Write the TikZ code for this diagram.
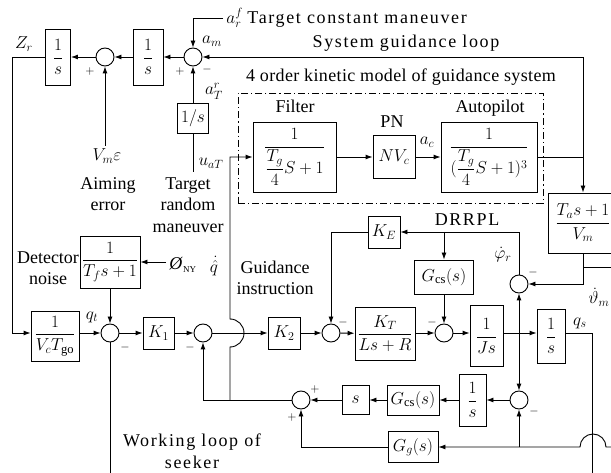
\documentclass[tikz,border=0pt]{standalone}
\usepackage{amsmath}
\usepackage{fontspec}
\setmainfont{Liberation Serif}
\newfontfamily\spacedfont[LetterSpace=9]{Liberation Serif}
\newfontfamily\kinfont[LetterSpace=2]{Liberation Serif}
\usetikzlibrary{arrows.meta, positioning, calc}

\begin{document}
\begin{tikzpicture}[
    x=1pt, y=-1pt, line width=0.9pt,
    font=\fontsize{18}{21.5}\selectfont,
    blk/.style={draw, rectangle, inner sep=0pt, align=center, fill=white},
    sumc/.style={draw, circle, minimum size=18pt, inner sep=0pt, fill=white},
    arrow/.style={-{Latex[length=7pt,width=5pt]}},
    pm/.style={inner sep=0pt, font=\fontsize{13}{13}\selectfont},
    lbl/.style={inner sep=0pt, align=center},
    dashdot/.style={dash pattern=on 7pt off 3pt on 1.2pt off 3pt}
]
    \useasboundingbox (0,0) rectangle (611,473);
    \clip (0,0) rectangle (611,473);

    % --- System guidance loop, top row ---
    \node[blk, minimum width=25pt, minimum height=56pt] (intZ) at (58,57) {$\dfrac{1}{s}$};
    \node[sumc] (sumE) at (105,57) {};
    \node[blk, minimum width=30pt, minimum height=56pt] (intM) at (148,57) {$\dfrac{1}{s}$};
    \node[sumc] (sumM) at (193,57) {};
    \node[blk, minimum width=31pt, minimum height=30pt] (intT) at (193,118) {$1/s$};
    \coordinate (af) at (223,18);
    \coordinate (vme) at (105,146);
    \coordinate (uat) at (193,172);

    \node[lbl] (lzr) at (24,44) {$Z_r$};
    \node[lbl] (lam) at (212,41) {$a_m$};
    \node[lbl] (lar) at (214,91) {$a^r_T$};
    \node[lbl, anchor=west] (laf) at (226,18) {$a^f_r$\ {\spacedfont Target constant maneuver}};
    \node[lbl] (lsys) at (406,43) {\spacedfont System guidance loop};
    \node[lbl] (lvme) at (107,156) {$V_m\varepsilon$};
    \node[lbl] (luat) at (211,163) {$u_{aT}$};
    \node[lbl] (laim) at (108,194) {Aiming\\error};
    \node[lbl] (ltrm) at (188,205) {Target\\random\\maneuver};
    \node[pm] (p1) at (90,72) {$+$};
    \node[pm] (p2) at (180,72) {$+$};
    \node[pm] (m1) at (207,70) {$-$};

    \draw[arrow] (sumM) -- (intM);
    \draw[arrow] (intM) -- (sumE);
    \draw[arrow] (sumE) -- (intZ);
    \draw[arrow] (vme) -- (sumE.south);
    \draw[arrow] (af) -| (sumM.north);
    \draw[arrow] (intT) -- (sumM);
    \draw (uat) -- (intT.south);

    % --- 4 order kinetic model ---
    \node[draw, dashdot, line width=0.8pt, minimum width=305pt, minimum height=110pt, inner sep=0pt] (kin) at (390.5,148) {};
    \node[lbl] (lkin) at (401,77) {\kinfont 4 order kinetic model of guidance system};
    \node[blk, minimum width=83pt, minimum height=70pt] (filt) at (294.5,157) {$\dfrac{1}{\dfrac{T_g}{4}S+1}$};
    \node[lbl] (lfilt) at (295,106) {Filter};
    \node[blk, minimum width=42pt, minimum height=43pt] (pn) at (394,157) {$NV_c$};
    \node[lbl] (lpn) at (392,122) {PN};
    \node[blk, minimum width=96pt, minimum height=70pt] (ap) at (489,157) {$\dfrac{1}{(\dfrac{T_g}{4}S+1)^3}$};
    \node[lbl] (lap) at (490,108) {Autopilot};
    \node[lbl] (lac) at (427,142) {$a_c$};
    \coordinate (brA) at (583,157);
    \node[blk, minimum width=70pt, minimum height=60pt] (tab) at (583,223) {$\dfrac{T_a s+1}{V_m}$};

    \draw[arrow] (filt) -- (pn);
    \draw[arrow] (pn) -- (ap);
    \draw (ap.east) -- (brA);
    \draw[arrow] (brA) -- (brA |- sumM) -- (sumM.east);
    \draw[arrow] (brA) -- (tab.north);

    % --- Seeker loop, main row ---
    \node[blk, minimum width=48pt, minimum height=50pt] (vct) at (55,336) {$\dfrac{1}{V_c T_{\mathrm{go}}}$};
    \node[sumc] (sumQ) at (110,333) {};
    \node[blk, minimum width=60pt, minimum height=52pt] (tf) at (110,262) {$\dfrac{1}{T_f s+1}$};
    \node[blk, minimum width=31pt, minimum height=32pt] (k1) at (158.5,333) {$K_1$};
    \node[sumc] (sumK) at (203,333) {};
    \node[blk, minimum width=32pt, minimum height=32pt] (k2) at (284,333) {$K_2$};
    \node[sumc] (sumI) at (331,333) {};
    \node[blk, minimum width=60pt, minimum height=53pt] (kt) at (385,333.5) {$\dfrac{K_T}{Ls+R}$};
    \node[sumc] (sumV) at (444,333) {};
    \node[blk, minimum width=33pt, minimum height=61pt] (js) at (486.5,336) {$\dfrac{1}{Js}$};
    \node[blk, minimum width=28pt, minimum height=54pt] (intS) at (551,336) {$\dfrac{1}{s}$};
    \coordinate (ny) at (166,262);
    \coordinate (brJ) at (519,333);
    \coordinate (qsd) at (592,480);
    \coordinate (qfb) at (110,480);

    \node[lbl] (ldet) at (48,268) {Detector\\noise};
    \node[lbl, anchor=west] (lny) at (169,265) {\textit{Ø}$_{\scriptscriptstyle\mathrm{NY}}$};
    \node[lbl] (lqt) at (92,317) {$q_t$};
    \node[lbl] (lqh) at (214,266) {$\dot{\hat{q}}$};
    \node[lbl] (lgui) at (275,278) {Guidance\\instruction};
    \node[lbl] (lqs) at (580,323) {$q_s$};
    \node[pm] (m2) at (125,348) {$-$};
    \node[pm] (m3) at (190,348) {$-$};
    \node[pm] (m4) at (343,323) {$-$};
    \node[pm] (m5) at (432,323) {$-$};

    \draw[arrow] (intZ.west) -- ++(-33,0) |- (vct.west |- sumQ);
    \draw[arrow] (vct.east |- sumQ) -- (sumQ);
    \draw[arrow] (ny) -- (tf);
    \draw[arrow] (tf) -- (sumQ);
    \draw (sumQ.south) -- (qfb);
    \draw[arrow] (sumQ) -- (k1);
    \draw[arrow] (k1) -- (sumK);
    \draw[arrow] (sumK) -- (k2);
    \draw[arrow] (k2) -- (sumI);
    \draw[arrow] (sumI) -- (kt);
    \draw[arrow] (kt.east |- sumV) -- (sumV);
    \draw[arrow] (sumV.east) -- (sumV.east -| js.west);
    \draw[arrow] (js.east |- sumV) -- (intS.west |- sumV);
    \draw (intS.east |- sumV) -| (qsd);

    % --- DRRPL ---
    \node[sumc] (sumR) at (519,284) {};
    \node[blk, minimum width=32pt, minimum height=32pt] (ke) at (384,232) {$K_E$};
    \node[blk, minimum width=59pt, minimum height=34pt] (gcs1) at (444,277) {$G_{\mathrm{cs}}(s)$};
    \coordinate (brG) at (444,232);
    \coordinate (thm) at (583,267);
    \coordinate (thout) at (620,267);

    \node[lbl] (ldrr) at (467,220) {\spacedfont DRRPL};
    \node[lbl] (lphi) at (503,255) {$\dot{\varphi}_r$};
    \node[lbl] (lthe) at (599,297) {$\dot{\vartheta}_m$};
    \node[pm] (m6) at (533,273) {$-$};

    \draw[arrow] (tab.south) |- (sumR.east);
    \draw (thm) -- (thout);
    \draw[arrow] (sumR.north) |- (ke.east);
    \draw[arrow] (brG) -- (gcs1.north);
    \draw[arrow] (gcs1) -- (sumV);
    \draw[arrow] (ke.west) -| (sumI.north);
    \draw[arrow] (brJ) -- (sumR.south);

    % --- Working loop of seeker, lower rows ---
    \node[sumc] (sumD) at (519,400) {};
    \node[blk, minimum width=27pt, minimum height=52pt] (intD) at (472.5,400) {$\dfrac{1}{s}$};
    \node[blk, minimum width=52pt, minimum height=30pt] (gcs2) at (413,400) {$G_{\mathrm{cs}}(s)$};
    \node[blk, minimum width=27pt, minimum height=29pt] (sbox) at (355.5,400) {$s$};
    \node[sumc] (sumF) at (301,400) {};
    \node[blk, minimum width=50pt, minimum height=31pt] (gg) at (413,447) {$G_g(s)$};
    \coordinate (ggin) at (620,447);
    \coordinate (brD) at (519,447);
    \coordinate (brQ) at (230,400);

    \node[pm] (m7) at (534,411) {$-$};
    \node[pm] (p3) at (315,389) {$+$};
    \node[pm] (p4) at (292,417) {$+$};
    \node[lbl] (lwork) at (192,451) {\spacedfont Working loop of\\\spacedfont seeker};

    \draw[arrow] (brJ) -- (sumD.north);
    \draw[arrow] (sumD) -- (intD);
    \draw[arrow] (intD) -- (gcs2);
    \draw[arrow] (gcs2) -- (sbox);
    \draw[arrow] (sbox) -- (sumF);
    \draw[arrow] (ggin) -- (606,447) arc[start angle=0, end angle=-180, radius=13] -- (gg.east);
    \draw[arrow] (brD) -- (sumD.south);
    \draw[arrow] (gg.west) -| (sumF.south);
    \draw[arrow] (sumF.west) -| (sumK.south);
    \draw[arrow] (brQ) -- (230,347) arc[start angle=90, end angle=-90, radius=14] |- (filt.west);

\end{tikzpicture}
\end{document}
